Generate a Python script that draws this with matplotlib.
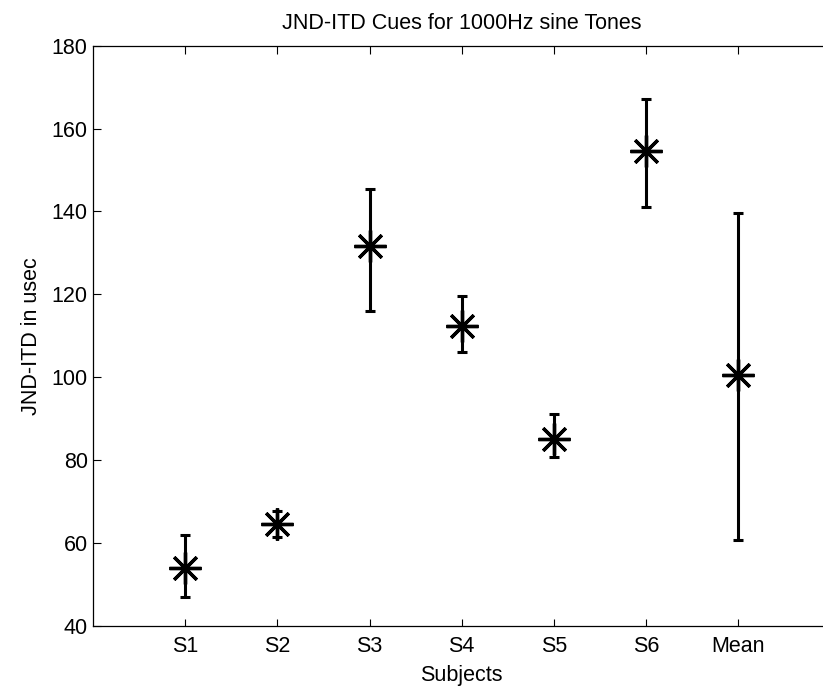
import matplotlib
matplotlib.use("Agg")
import matplotlib.pyplot as plt
import numpy as np

plt.rcParams['font.family'] = ['Liberation Sans', 'DejaVu Sans']

categories = ["S1", "S2", "S3", "S4", "S5", "S6", "Mean"]
values = [53.9, 64.5, 131.6, 112.3, 85.0, 154.5, 100.5]
upper = [62.0, 67.8, 145.5, 119.6, 91.1, 167.1, 139.7]
lower = [46.9, 61.4, 115.9, 106.2, 80.8, 141.0, 60.8]
y_ticks = [40, 60, 80, 100, 120, 140, 160, 180]

fig = plt.figure(figsize=(8.23, 6.88), dpi=100)
ax = fig.add_axes([93.3 / 823, 1 - 626 / 688, (830 - 93.3) / 823, (626 - 45.6) / 688])

x = np.arange(1, len(categories) + 1)
vals = np.array(values)
yerr = np.vstack([vals - np.array(lower), np.array(upper) - vals])

ax.errorbar(x, vals, yerr=yerr, fmt='none', ecolor='black', elinewidth=2.2,
            capsize=3.8, capthick=2.2)
ax.plot(x, vals, linestyle='none', marker=(8, 2, 0), markersize=23,
        markeredgewidth=2.4, color='black')

ax.set_xlim(0, 8)
ax.set_ylim(40, 180)
ax.set_xticks(x)
ax.set_xticklabels(categories)
ax.set_yticks(y_ticks)
ax.tick_params(direction='in', length=5.4, width=0.8, top=True, right=True,
               labelsize=15.5, colors='black')
ax.tick_params(axis='x', pad=7)
ax.tick_params(axis='y', pad=4)
for s in ax.spines.values():
    s.set_linewidth(0.9)
ax.spines['right'].set_visible(False)

ax.set_title("JND-ITD Cues for 1000Hz sine Tones", fontsize=15.5, pad=12)
ax.set_xlabel("Subjects", fontsize=15.5, labelpad=6)
ax.set_ylabel("JND-ITD in usec", fontsize=15.5, labelpad=7)

fig.savefig("out.png", dpi=100)
